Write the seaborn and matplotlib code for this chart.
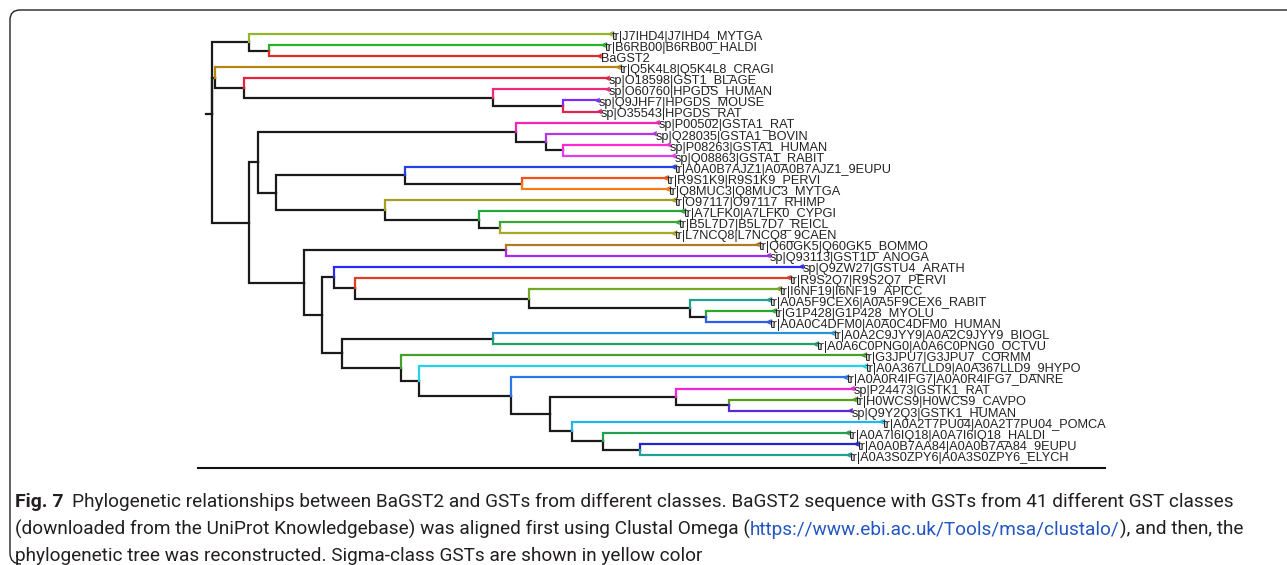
import numpy as np
import pandas as pd
import matplotlib
matplotlib.use("Agg")
import matplotlib.pyplot as plt
import seaborn as sns
from matplotlib.path import Path
from matplotlib.patches import PathPatch
from matplotlib import font_manager

# ---------------- data ----------------
tip_labels = [
    "tr|J7IHD4|J7IHD4_MYTGA", "tr|B6RB00|B6RB00_HALDI", "BaGST2",
    "tr|Q5K4L8|Q5K4L8_CRAGI", "sp|O18598|GST1_BLAGE", "sp|O60760|HPGDS_HUMAN",
    "sp|Q9JHF7|HPGDS_MOUSE", "sp|O35543|HPGDS_RAT", "sp|P00502|GSTA1_RAT",
    "sp|Q28035|GSTA1_BOVIN", "sp|P08263|GSTA1_HUMAN", "sp|Q08863|GSTA1_RABIT",
    "tr|A0A0B7AJZ1|A0A0B7AJZ1_9EUPU", "tr|R9S1K9|R9S1K9_PERVI", "tr|Q8MUC3|Q8MUC3_MYTGA",
    "tr|O97117|O97117_RHIMP", "tr|A7LFK0|A7LFK0_CYPGI", "tr|B5L7D7|B5L7D7_REICL",
    "tr|L7NCQ8|L7NCQ8_9CAEN", "tr|Q60GK5|Q60GK5_BOMMO", "sp|Q93113|GST1D_ANOGA",
    "sp|Q9ZW27|GSTU4_ARATH", "tr|R9S2Q7|R9S2Q7_PERVI", "tr|I6NF19|I6NF19_APICC",
    "tr|A0A5F9CEX6|A0A5F9CEX6_RABIT", "tr|G1P428|G1P428_MYOLU", "tr|A0A0C4DFM0|A0A0C4DFM0_HUMAN",
    "tr|A0A2C9JYY9|A0A2C9JYY9_BIOGL", "tr|A0A6C0PNG0|A0A6C0PNG0_OCTVU", "tr|G3JPU7|G3JPU7_CORMM",
    "tr|A0A367LLD9|A0A367LLD9_9HYPO", "tr|A0A0R4IFG7|A0A0R4IFG7_DANRE", "sp|P24473|GSTK1_RAT",
    "tr|H0WCS9|H0WCS9_CAVPO", "sp|Q9Y2Q3|GSTK1_HUMAN", "tr|A0A2T7PU04|A0A2T7PU04_POMCA",
    "tr|A0A7I6IQ18|A0A7I6IQ18_HALDI", "tr|A0A0B7AA84|A0A0B7AA84_9EUPU", "tr|A0A3S0ZPY6|A0A3S0ZPY6_ELYCH",
]
tip_colors = [
    "#93b52b", "#27b42a", "#e32a2a", "#b5860e", "#e8213f", "#ee2a7b",
    "#7b2cff", "#e0245a", "#f524b0", "#b437e6", "#ff2ad4", "#e23cf0",
    "#2342e6", "#f5501a", "#f57a1a", "#a3a01e", "#22a83a", "#3aa838",
    "#a8a828", "#b07a22", "#a62af0", "#2a2af5", "#e03c28", "#72a826",
    "#1fa58a", "#29a82c", "#2a5cf0", "#2a92d8", "#22a06a", "#44a02a",
    "#22d2e6", "#2a76e6", "#f024d8", "#52a01a", "#5a2ad6", "#22b6e8",
    "#22a050", "#2424c8", "#22a096",
]
# terminal branch lengths
tip_branch = [
    0.361, 0.334, 0.330, 0.403, 0.363, 0.114, 0.034, 0.036, 0.141,
    0.108, 0.105, 0.110, 0.268, 0.143, 0.145, 0.288, 0.203, 0.177,
    0.173, 0.251, 0.262, 0.467, 0.433, 0.249, 0.078, 0.067, 0.062,
    0.339, 0.322, 0.462, 0.445, 0.334, 0.176, 0.125, 0.121, 0.309,
    0.244, 0.216, 0.208,
]
# internal nodes: name, children (int = tip index), branch length to parent
node_names = ["root", "a1", "a2", "b1", "b2", "b3", "b4",
              "c1", "c2", "c3", "c4", "c5", "c6", "c7", "c7b", "c8", "c9", "c9b",
              "c10", "c11", "c12", "c13", "c14", "c15", "c16", "c16b",
              "c17", "c18", "c19", "c20", "c21", "c22", "c23", "c23b", "c24", "c25", "c26"]
node_children = [["a1", "b1", "c1"], [0, "a2"], [1, 2], [3, "b2"], [4, "b3"], [5, "b4"], [6, 7],
                 ["c2", "c10"], ["c3", "c6"], [8, "c4"], [9, "c5"], [10, 11], ["c7", "c8"],
                 [12, "c7b"], [13, 14], [15, "c9"], [16, "c9b"], [17, 18],
                 ["c11", "c12"], [19, 20], ["c13", "c17"], [21, "c14"], [22, "c15"], [23, "c16"],
                 [24, "c16b"], [25, 26],
                 ["c18", "c19"], [27, 28], [29, "c20"], [30, "c21"], [31, "c22"], ["c23", "c24"],
                 [32, "c23b"], [33, 34], [35, "c25"], [36, "c26"], [37, 38]]
node_branch = [0.006, 0.037, 0.020, 0.003, 0.029, 0.249, 0.070,
               0.037, 0.009, 0.258, 0.030, 0.017, 0.018, 0.129, 0.117, 0.109, 0.094, 0.021,
               0.055, 0.202, 0.018, 0.012, 0.021, 0.174, 0.161, 0.016,
               0.020, 0.151, 0.059, 0.018, 0.092, 0.039, 0.126, 0.053, 0.022, 0.031, 0.037]

caption_bold = "Fig. 7"
caption_l1 = ("Phylogenetic relationships between BaGST2 and GSTs from different classes. "
              "BaGST2 sequence with GSTs from 41 different GST classes")
caption_l2a = "(downloaded from the UniProt Knowledgebase) was aligned first using Clustal Omega ("
caption_url = "https://www.ebi.ac.uk/Tools/msa/clustalo/"
caption_l2b = "), and then, the"
caption_l3 = "phylogenetic tree was reconstructed. Sigma-class GSTs are shown in yellow color"

# ---------------- layout of the tree ----------------
children = dict(zip(node_names, node_children))
blen = dict(zip(node_names, node_branch))
xpos, ypos, parent = {}, {}, {}


def walk(node, px):
    if isinstance(node, (int, np.integer)):
        xpos[node] = px + tip_branch[node]
        ypos[node] = float(node)
        return ypos[node]
    xpos[node] = 0.0 if node == "root" else px + blen[node]
    ys = []
    for c in children[node]:
        parent[c] = node
        ys.append(walk(c, xpos[node]))
    ypos[node] = float(np.mean(ys))
    return ypos[node]


walk("root", 0.0)

rows = []
eid = 0
# root edge
rows += [dict(edge=eid, o=0, x=-blen["root"], y=ypos["root"], color="#1a1a1a"),
         dict(edge=eid, o=1, x=0.0, y=ypos["root"], color="#1a1a1a")]
for c, p in parent.items():
    eid += 1
    col = tip_colors[c] if isinstance(c, int) else "#1a1a1a"
    rows += [dict(edge=eid, o=0, x=xpos[p], y=ypos[p], color=col),
             dict(edge=eid, o=1, x=xpos[p], y=ypos[c], color=col),
             dict(edge=eid, o=2, x=xpos[c], y=ypos[c], color=col)]
edges = pd.DataFrame(rows)

tips = pd.DataFrame(dict(x=[xpos[i] for i in range(len(tip_labels))],
                         y=[ypos[i] for i in range(len(tip_labels))],
                         color=tip_colors, label=tip_labels))

# ---------------- drawing ----------------
sns.set_theme(style="white")
plt.rcParams["font.family"] = ["Liberation Sans", "DejaVu Sans"]

W, H = 1287, 565
fig = plt.figure(figsize=(W / 100, H / 100), dpi=100)
fig.patch.set_facecolor("white")

# tree axes (pixel geometry of the reference)
ax_l, ax_r, ax_b, ax_t = 198, 1105, 468, 28
ax = fig.add_axes([ax_l / W, (H - ax_b) / H, (ax_r - ax_l) / W, (ax_b - ax_t) / H])
x0 = -0.014
ax.set_xlim(x0, x0 + (ax_r - ax_l) / 1000.0)
row_px = 11.08
ax.set_ylim((ax_b - 34) / row_px, (ax_t - 34) / row_px)

palette = {c: c for c in edges["color"].unique()}
hue_order = ["#1a1a1a"] + [c for c in palette if c != "#1a1a1a"]
sns.lineplot(data=edges, x="x", y="y", units="edge", estimator=None, sort=False,
             hue="color", palette=palette, hue_order=hue_order, legend=False,
             lw=1.6, ax=ax, solid_joinstyle="miter", solid_capstyle="projecting")
sns.scatterplot(data=tips, x="x", y="y", hue="color", palette=palette, legend=False,
                marker="<", s=16, linewidth=0, ax=ax, zorder=3)

for _, r in tips.iterrows():
    ax.annotate(r["label"], xy=(r["x"], r["y"]), xytext=(1.5, -5.8),
                textcoords="offset pixels", ha="left", va="baseline",
                fontsize=9.2, color="#222222", annotation_clip=False)

ax.set_xticks([])
ax.set_yticks([])
ax.set_xlabel("")
ax.set_ylabel("")
for s in ["left", "top", "right"]:
    ax.spines[s].set_visible(False)
ax.spines["bottom"].set_color("#111111")
ax.spines["bottom"].set_linewidth(1.5)
ax.patch.set_alpha(0)

# overlay axes in pixel coordinates for frame and caption
ov = fig.add_axes([0, 0, 1, 1], zorder=-1)
ov.set_xlim(0, W)
ov.set_ylim(H, 0)
ov.axis("off")

frame = Path([(W + 2, 10), (20, 10), (10, 10), (10, 20), (10, 553), (10, 564), (21, 564)],
             [Path.MOVETO, Path.LINETO, Path.CURVE3, Path.CURVE3, Path.LINETO, Path.CURVE3, Path.CURVE3])
ov.add_patch(PathPatch(frame, fill=False, edgecolor="#222222", lw=1.0))

names = {f.name for f in font_manager.fontManager.ttflist}
cap_font = "Liberation Sans Narrow" if "Liberation Sans Narrow" in names else "Roboto"

renderer = fig.canvas.get_renderer()


def width_px(t):
    return t.get_window_extent(renderer=renderer).width


def draw_line(pieces, x, y, size):
    for txt, kw in pieces:
        t = ov.text(x, y, txt, fontsize=size, va="baseline", ha="left",
                    family=[cap_font, "DejaVu Sans"], **kw)
        x += width_px(t)
    return x


# fit caption size so that line 1 spans the reference width
base = 10.0
probe = ov.text(0, 0, caption_bold + "  " + caption_l1, fontsize=base, family=[cap_font, "DejaVu Sans"])
scale = (1237 - 15) / width_px(probe)
probe.remove()
size = base * scale

black = dict(color="#231f20")
blue = dict(color="#2356c2")
t = ov.text(15, 507, caption_bold, fontsize=size * 1.02, va="baseline", ha="left",
            family=[cap_font, "DejaVu Sans"], fontweight="bold", color="#231f20")
xx = 15 + width_px(t) + size * 0.6
draw_line([(caption_l1, black)], xx, 507, size)
draw_line([(caption_l2a, black), (caption_url, blue), (caption_l2b, black)], 15, 535, size)
draw_line([(caption_l3, black)], 15, 561, size)

fig.savefig("out.png", dpi=100, facecolor="white")
